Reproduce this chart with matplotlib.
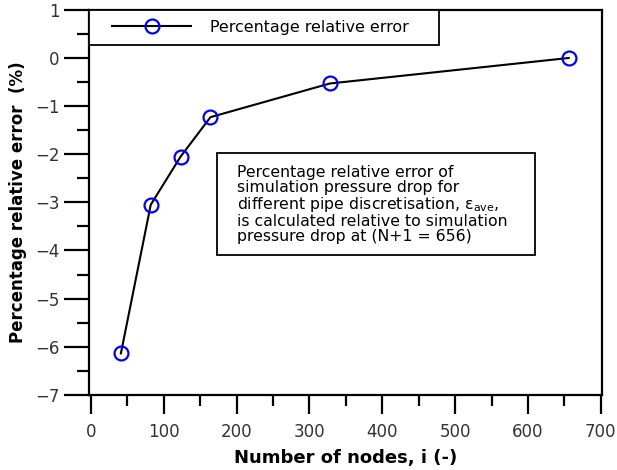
import matplotlib
matplotlib.use("Agg")
import matplotlib.pyplot as plt
from matplotlib.legend_handler import HandlerLine2D
from matplotlib.patches import Rectangle
from matplotlib.ticker import MultipleLocator

plt.rcParams["font.family"] = ["DejaVu Sans"]

# number of nodes and percentage relative error of the pressure drop
nodes = [41, 82, 123, 164, 328, 656]
rel_error = [-6.14, -3.05, -2.05, -1.23, -0.53, 0.0]

series_label = "Percentage relative error"
note = ("Percentage relative error of\n"
        "simulation pressure drop for\n"
        "different pipe discretisation, ε$_{\\mathrm{ave}}$,\n"
        "is calculated relative to simulation\n"
        "pressure drop at (N+1 = 656)")

fig = plt.figure(figsize=(6.17, 4.70), dpi=100)
ax = fig.add_axes([0.144, 0.160, 0.832, 0.819])

line, = ax.plot(nodes, rel_error, color="black", linewidth=1.5, marker="o",
                markersize=10, markerfacecolor="none", markeredgecolor="blue",
                markeredgewidth=1.6)

ax.set_xlim(-3, 702)
ax.set_ylim(-7, 1)
ax.xaxis.set_major_locator(MultipleLocator(100))
ax.xaxis.set_minor_locator(MultipleLocator(50))
ax.yaxis.set_major_locator(MultipleLocator(1))
ax.yaxis.set_minor_locator(MultipleLocator(0.5))

for side in ax.spines.values():
    side.set_linewidth(1.6)
ax.tick_params(axis="y", which="major", direction="out", length=18, width=1.6,
               labelsize=12, labelcolor="#333333", pad=3)
ax.tick_params(axis="y", which="minor", direction="out", length=9, width=1.6)
ax.tick_params(axis="x", which="major", direction="out", length=14, width=1.6,
               labelsize=12, labelcolor="#333333", pad=6)
ax.tick_params(axis="x", which="minor", direction="out", length=8, width=1.6)

ax.set_xlabel("Number of nodes, i (-)", fontsize=13, fontweight="bold", labelpad=6)
ax.set_ylabel("Percentage relative error  (%)", fontsize=12, fontweight="bold", labelpad=6)

# inset the legend handle from the frame, trailing spaces for the right margin
leg = ax.legend([line], [series_label + "    "], loc="upper left",
                borderaxespad=0, fancybox=False, edgecolor="black",
                framealpha=1, fontsize=11.4, handlelength=5.85,
                borderpad=0.63, handletextpad=1.2,
                handler_map={line: HandlerLine2D(xpad=0.82)})
leg.get_frame().set_linewidth(1.3)

ax.add_patch(Rectangle((0.2495, 0.3636), 0.6195, 0.265, transform=ax.transAxes,
                       fill=False, edgecolor="black", linewidth=1.3))
ax.text(0.2885, 0.598, note, transform=ax.transAxes, fontsize=11.3,
        va="top", ha="left", linespacing=1.0)

fig.savefig("out.png", dpi=100)
